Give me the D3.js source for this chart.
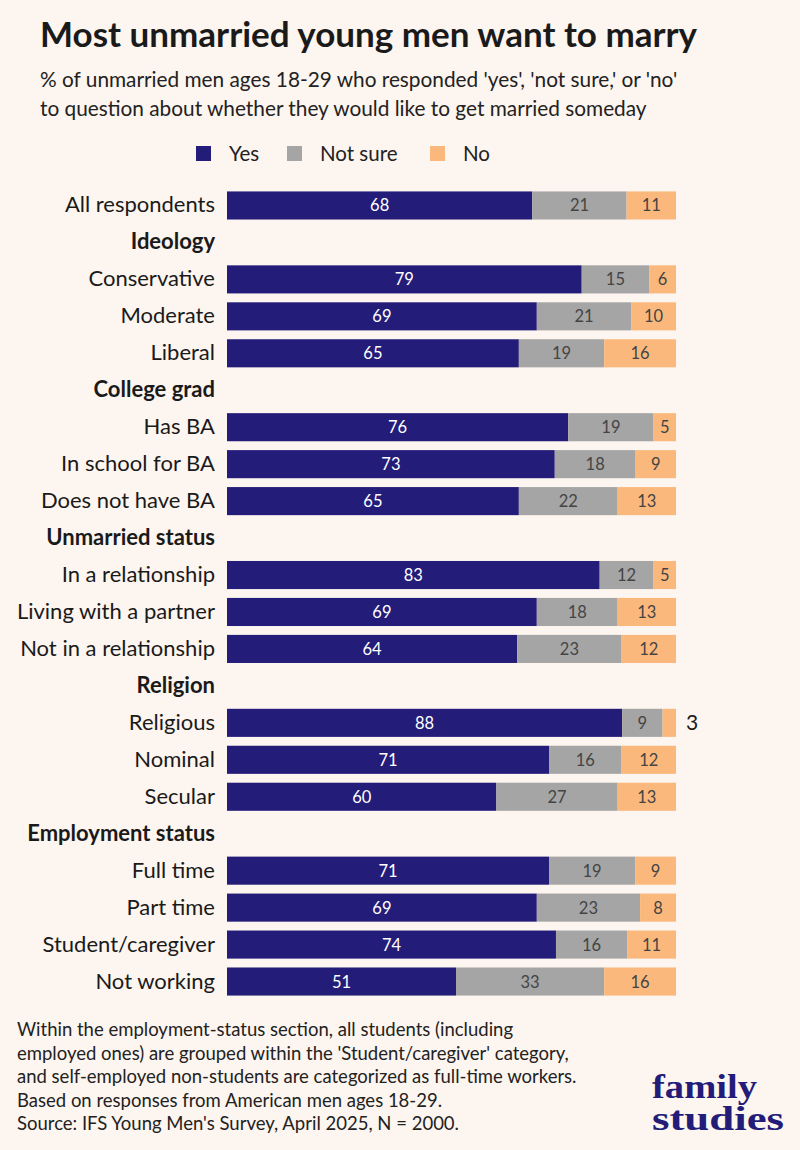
<!DOCTYPE html>
<html><head><meta charset="utf-8">
<script src="https://cdn.jsdelivr.net/npm/d3@7"></script>
<style>body{margin:0;background:#fdf5ef;font-family:Lato,"Open Sans",sans-serif;}</style>
</head><body><div id="chart"></div>
<script>
// rows in display order; header rows have no values
const labels = ["All respondents","Ideology","Conservative","Moderate","Liberal","College grad","Has BA","In school for BA","Does not have BA","Unmarried status","In a relationship","Living with a partner","Not in a relationship","Religion","Religious","Nominal","Secular","Employment status","Full time","Part time","Student/caregiver","Not working"];
const headers = ["Ideology","College grad","Unmarried status","Religion","Employment status"];
const yes =     [68,null,79,69,65,null,76,73,65,null,83,69,64,null,88,71,60,null,71,69,74,51];
const notSure = [21,null,15,21,19,null,19,18,22,null,12,18,23,null,9,16,27,null,19,23,16,33];
const no =      [11,null,6,10,16,null,5,9,13,null,5,13,12,null,3,12,13,null,9,8,11,16];
const seriesNames = ["Yes","Not sure","No"];
const colors = ["#231c78","#a5a5a5","#fbb87c"];

const W = 800, H = 1150;
const svg = d3.select("#chart").append("svg").attr("width", W).attr("height", H);
svg.append("rect").attr("width", W).attr("height", H).attr("fill", "#fdf5ef");

svg.append("text").attr("x", 40).attr("y", 47).attr("font-size", 35).attr("font-weight", 700)
    .attr("fill", "#1a1a1a").text("Most unmarried young men want to marry");
["% of unmarried men ages 18-29 who responded 'yes', 'not sure,' or 'no'",
 "to question about whether they would like to get married someday"].forEach((t, i) =>
    svg.append("text").attr("x", 40).attr("y", 87 + i * 29).attr("font-size", 20.8).attr("fill", "#222").text(t));

// legend
const lx = [196, 287, 430];
seriesNames.forEach((s, i) => {
    svg.append("rect").attr("x", lx[i]).attr("y", 146).attr("width", 15).attr("height", 15).attr("fill", colors[i]);
    svg.append("text").attr("x", lx[i] + 33).attr("y", 161).attr("font-size", 20.5).attr("fill", "#222").text(s);
});

const x = d3.scaleLinear().domain([0, 1]).range([227, 676]);
const y = d3.scaleBand().domain(labels).range([187, 1000]).paddingInner(0.24).paddingOuter(0.12);

labels.forEach((lab, i) => {
    const cy = y(lab) + y.bandwidth() / 2;
    const isHeader = headers.includes(lab);
    svg.append("text").attr("x", 215).attr("y", cy + 7).attr("text-anchor", "end")
        .attr("font-size", 22).attr("font-weight", isHeader ? 700 : 400).attr("fill", "#1a1a1a").text(lab);
    if (isHeader) return;
    const vals = [yes[i], notSure[i], no[i]];
    const total = d3.sum(vals);
    let acc = 0;
    vals.forEach((v, k) => {
        const x0 = x(acc / total), x1 = x((acc + v) / total);
        acc += v;
        svg.append("rect").attr("x", x0).attr("y", y(lab)).attr("width", x1 - x0)
            .attr("height", y.bandwidth()).attr("fill", colors[k]);
        const outside = v < 4;
        svg.append("text").attr("x", outside ? x1 + 10 : (x0 + x1) / 2).attr("y", cy + (outside ? 7 : 6))
            .attr("text-anchor", outside ? "start" : "middle")
            .attr("font-size", outside ? 21 : 16.5)
            .attr("fill", k === 0 ? "#fff" : (outside ? "#1a1a1a" : "#444")).text(v);
    });
});

["Within the employment-status section, all students (including",
 "employed ones) are grouped within the 'Student/caregiver' category,",
 "and self-employed non-students are categorized as full-time workers.",
 "Based on responses from American men ages 18-29.",
 "Source: IFS Young Men's Survey, April 2025, N = 2000."].forEach((t, i) =>
    svg.append("text").attr("x", 17).attr("y", 1036 + i * 23.5).attr("font-size", 18.5).attr("fill", "#222").text(t));

svg.append("text").attr("x", 652).attr("y", 1098).attr("font-family", "Liberation Serif, serif")
    .attr("font-weight", 700).attr("font-size", 34).attr("fill", "#231c78")
    .attr("textLength", 105).attr("lengthAdjust", "spacingAndGlyphs").text("family");
svg.append("text").attr("x", 652).attr("y", 1130).attr("font-family", "Liberation Serif, serif")
    .attr("font-weight", 700).attr("font-size", 34).attr("fill", "#231c78")
    .attr("textLength", 132).attr("lengthAdjust", "spacingAndGlyphs").text("studies");
</script></body></html>
